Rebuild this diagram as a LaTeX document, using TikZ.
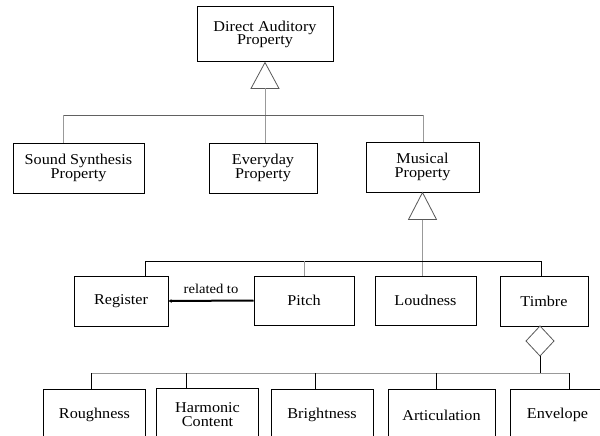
\documentclass[tikz,border=0pt]{standalone}
\usepackage{fontspec}
\setmainfont{Liberation Serif}[FakeStretch=1.08]
\usetikzlibrary{arrows.meta,calc}
\begin{document}
\begin{tikzpicture}[x=1pt,y=-1pt,
  box/.style={draw=black, line width=1pt, fill=white, inner sep=0pt, align=center,
    font=\fontsize{15}{13.5}\selectfont},
  lightline/.style={draw=black!40, line width=0.7pt},
  darkline/.style={draw=black!62, line width=1pt},
  blackline/.style={draw=black, line width=1pt},
  shapeline/.style={draw=black!65, line width=0.8pt, fill=white},
  rel/.style={draw=black, line width=2pt, -{Latex[length=3pt,width=4pt]}}]
\useasboundingbox (0,0) rectangle (600,436);
\clip (0,0) rectangle (600,436);

% top level
\node[box, minimum width=136pt, minimum height=55pt] (dap) at (265,34.5) {Direct Auditory\\Property};
\node[box, minimum width=131pt, minimum height=50pt] (ss) at (78.5,168) {Sound Synthesis\\Property};
\node[box, minimum width=108pt, minimum height=50pt] (ev) at (263,168) {Everyday\\Property};
\node[box, minimum width=113pt, minimum height=50pt] (mus) at (422.5,167) {Musical\\Property};

% generalisation triangle and tree under Direct Auditory Property
\draw[shapeline] (dap.south) -- ++(-14,26) -- ++(28,0) -- cycle;
\coordinate (t1) at ($(dap.south)+(0,26)$);
\coordinate (b1l) at (63,115);
\coordinate (b1r) at (423,115);
\draw[lightline] (t1) -- (t1 |- ev.north);
\draw[darkline] (b1l) -- (b1r);
\draw[lightline] (b1l) -- (b1l |- ss.north);
\draw[lightline] (b1r) -- (b1r |- mus.north);

% second level
\node[box, minimum width=94pt, minimum height=50pt] (reg) at (121,301) {Register};
\node[box, minimum width=100pt, minimum height=49pt] (pit) at (304,300.5) {Pitch};
\node[box, minimum width=101pt, minimum height=49pt] (lou) at (425.5,300.5) {Loudness};
\node[box, minimum width=88pt, minimum height=50pt] (tim) at (544,301) {Timbre};

% generalisation triangle under Musical Property
\draw[shapeline] (mus.south) -- ++(-14,27) -- ++(28,0) -- cycle;
\coordinate (t2) at ($(mus.south)+(0,27)$);
\coordinate (b2l) at (145,261);
\coordinate (b2r) at (541,261);
\draw[lightline] (t2) -- (t2 |- lou.north);
\draw[blackline] (b2l) -- (b2r);
\draw[blackline] (b2l) -- (b2l |- reg.north);
\draw[lightline] (pit.north) -- (pit.north |- b2l);
\draw[blackline] (b2r) -- (b2r |- tim.north);

% association between Pitch and Register
\draw[rel] (pit.west) -- node[above=3pt, font=\fontsize{13.5}{13.5}\selectfont] {related to} (reg.east);

% aggregation diamond under Timbre
\coordinate (dtop) at (540,326);
\draw[shapeline] (dtop) -- ++(14,15) -- ++(-14,15) -- ++(-14,-15) -- cycle;
\coordinate (dbot) at (540,356);
\coordinate (b3) at (540,373);
\draw[blackline] (dbot) -- (b3);

% third level
\node[box, minimum width=102pt, minimum height=52pt] (rou) at (94.5,415) {Roughness};
\node[box, minimum width=102pt, minimum height=53pt] (har) at (207.5,414.5) {Harmonic\\Content};
\node[box, minimum width=102pt, minimum height=52pt] (bri) at (322,415) {Brightness};
\node[box, minimum width=107pt, minimum height=52pt] (art) at (441.5,415) {Articulation};
\node[box, minimum width=95pt, minimum height=52pt] (env) at (557.5,415) {Envelope};

\coordinate (b3l) at (91,373);
\coordinate (b3r) at (569,373);
\draw[lightline] (b3l) -- (b3r);
\draw[blackline] (b3l) -- (b3l |- rou.north);
\draw[blackline] (186,373) -- (186,388);
\draw[blackline] (315,373) -- (315,389);
\draw[blackline] (436,373) -- (436,389);
\draw[blackline] (b3r) -- (b3r |- env.north);
\end{tikzpicture}
\end{document}
